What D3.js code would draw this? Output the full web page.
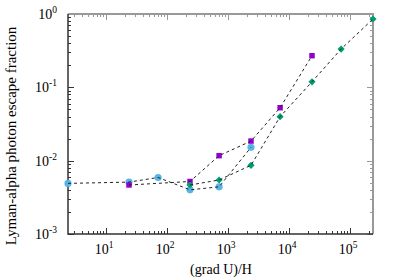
<!DOCTYPE html>
<html>
<head>
<meta charset="utf-8">
<script src="https://cdn.jsdelivr.net/npm/d3@7"></script>
<style>
  body { margin: 0; background: #fff; }
</style>
</head>
<body>
<script>
// chart values
var gradX = [2.37, 23.7, 71.1, 237, 711, 2370, 7110, 23700, 71100, 237000];

var blueX = [2.37, 23.7, 71.1, 237, 711, 2370],
    blueY = [0.0049, 0.0051, 0.0059, 0.0040, 0.0044, 0.0152];
var purpleX = [23.7, 237, 711, 2370, 7110, 23700],
    purpleY = [0.00466, 0.0052, 0.0117, 0.0185, 0.0527, 0.27];
var greenX = [237, 711, 2370, 7110, 23700, 71100, 237000],
    greenY = [0.00466, 0.00545, 0.00865, 0.0398, 0.119, 0.333, 0.855];

var xTicks = [1, 2, 3, 4, 5],
    yTicks = [0, -1, -2, -3];

var FONT = '"Liberation Serif", "Times New Roman", Times, serif';

// Chart basic vars
var margin = {left: 68, top: 14, right: 26, bottom: 45},
    width = 399,
    height = 279;

var x = d3.scaleLog()
        .domain([gradX[0], gradX[gradX.length - 1]])
        .range([margin.left, width - margin.right]),
    y = d3.scaleLog()
        .domain([1e-3, 1])
        .range([height - margin.bottom, margin.top]);

var svg = d3.select("body").append("svg")
    .attr("width", width)
    .attr("height", height)
    .style('font-family', FONT);

var x0 = margin.left, x1 = width - margin.right,
    y0 = height - margin.bottom, y1 = margin.top;

// log ticks: 1..9 per decade, major on 1
function logTicks(lo, hi) {
    var out = [];
    for (var e = -3; e <= 5; e++)
        for (var m = 1; m < 10; m++) {
            var v = m * Math.pow(10, e);
            if (v >= lo * 0.999 && v <= hi * 1.001) out.push({v: v, major: m == 1});
        }
    return out;
}

var tg = svg.append('g').attr('stroke-width', 1);
logTicks(x.domain()[0], x.domain()[1]).forEach(function(d) {
    var len = d.major ? 6 : 3, px = Math.round(x(d.v)) + 0.5;
    tg.append('line').attr('x1', px).attr('x2', px).attr('y1', y0).attr('y2', y0 - len).attr('stroke', '#333');
    tg.append('line').attr('x1', px).attr('x2', px).attr('y1', y1).attr('y2', y1 + len).attr('stroke', '#999');
});
logTicks(1e-3, 1).forEach(function(d) {
    var len = d.major ? 6 : 3, py = Math.round(y(d.v)) + 0.5;
    tg.append('line').attr('x1', x0).attr('x2', x0 + len).attr('y1', py).attr('y2', py).attr('stroke', '#333');
    tg.append('line').attr('x1', x1).attr('x2', x1 - len).attr('y1', py).attr('y2', py).attr('stroke', '#999');
});

// border: top/right grey, bottom/left dark
svg.append('path').attr('d', 'M' + x0 + ',' + y1 + 'H' + x1 + 'V' + y0)
    .attr('fill', 'none').attr('stroke', '#999').attr('stroke-width', 2);
svg.append('path').attr('d', 'M' + x0 + ',' + y1 + 'V' + y0 + 'H' + x1)
    .attr('fill', 'none').attr('stroke', '#333').attr('stroke-width', 1.5);

// tick labels
var xl = svg.selectAll('.xlab').data(xTicks).enter().append('text')
    .attr('x', function(d) { return x(Math.pow(10, d)) - 2; })
    .attr('y', y0 + 20)
    .attr('text-anchor', 'middle')
    .style('font-size', '14px');
xl.append('tspan').text('10');
xl.append('tspan').attr('dy', -6).style('font-size', '9.5px').text(function(d) { return d; });

var yl = svg.selectAll('.ylab').data(yTicks).enter().append('text')
    .attr('x', x0 - 11)
    .attr('y', function(d) { return y(Math.pow(10, d)) + 5; })
    .attr('text-anchor', 'end')
    .style('font-size', '14px');
yl.append('tspan').text('10');
yl.append('tspan').attr('dy', -6).style('font-size', '9.5px').text(function(d) { return d; });

// axis titles
svg.append('text').attr('x', 221).attr('y', 274)
    .attr('text-anchor', 'middle').style('font-size', '14px').text('(grad U)/H');
svg.append('text')
    .attr('transform', 'translate(16,136) rotate(-90)')
    .attr('text-anchor', 'middle').style('font-size', '15px')
    .text('Lyman-alpha photon escape fraction');

// series
var series = [
    {xs: blueX, ys: blueY, color: '#56b4e9', shape: d3.symbolCircle, size: 40, rot: 0},
    {xs: purpleX, ys: purpleY, color: '#9400d3', shape: d3.symbolSquare, size: 30, rot: 0},
    {xs: greenX, ys: greenY, color: '#009e73', shape: d3.symbolSquare, size: 26, rot: 45}
];

var line = d3.line()
    .x(function(d) { return x(d[0]); })
    .y(function(d) { return y(d[1]); });

series.forEach(function(s) {
    var pts = s.xs.map(function(v, i) { return [v, s.ys[i]]; });
    svg.selectAll(null).data(pts).enter().append('path')
        .attr('transform', function(d) { return 'translate(' + x(d[0]) + ',' + y(d[1]) + ') rotate(' + s.rot + ')'; })
        .attr('d', d3.symbol().type(s.shape).size(s.size))
        .style('fill', s.color);
});
series.forEach(function(s) {
    var pts = s.xs.map(function(v, i) { return [v, s.ys[i]]; });
    svg.append('path').datum(pts)
        .attr('d', line)
        .attr('fill', 'none')
        .attr('stroke', '#222')
        .attr('stroke-width', 1)
        .attr('stroke-dasharray', '3,3');
});
</script>
</body>
</html>
